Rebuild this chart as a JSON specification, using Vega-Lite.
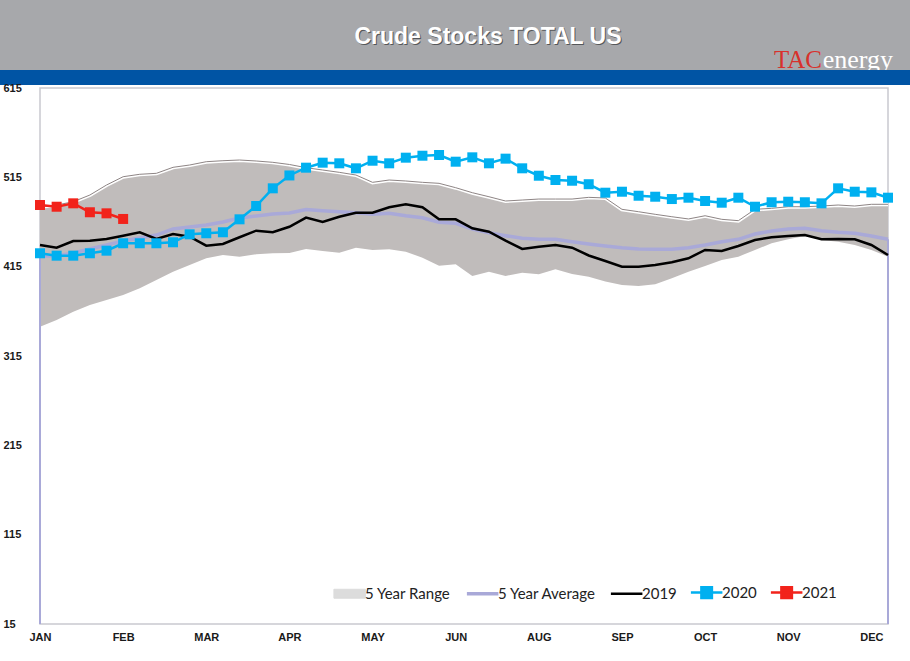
{
  "$schema": "https://vega.github.io/schema/vega-lite/v6.json",
  "padding": 0,
  "background": "white",
  "spacing": 0,
  "bounds": "flush",
  "config": {"view": {"stroke": null}, "font": "Liberation Sans"},
  "datasets": {
    "weeks": [
      {"week": 1, "lo": 347.8, "hi": 482.1, "avg": 426.9, "y2019": 439.3, "y2020": 430.0, "y2021": 484.0},
      {"week": 2, "lo": 355.3, "hi": 484.0, "avg": 426.9, "y2019": 436.2, "y2020": 427.3, "y2021": 482.1},
      {"week": 3, "lo": 364.6, "hi": 487.7, "avg": 430.3, "y2019": 443.7, "y2020": 427.3, "y2021": 485.9},
      {"week": 4, "lo": 372.1, "hi": 495.2, "avg": 434.8, "y2019": 444.1, "y2020": 430.0, "y2021": 475.9},
      {"week": 5, "lo": 377.7, "hi": 506.4, "avg": 439.3, "y2019": 446.0, "y2020": 432.9, "y2021": 474.7},
      {"week": 6, "lo": 383.3, "hi": 515.7, "avg": 443.7, "y2019": 449.7, "y2020": 441.2, "y2021": 468.4},
      {"week": 7, "lo": 390.8, "hi": 518.4, "avg": 447.1, "y2019": 453.5, "y2020": 441.2},
      {"week": 8, "lo": 400.1, "hi": 519.5, "avg": 450.4, "y2019": 446.0, "y2020": 441.2},
      {"week": 9, "lo": 409.4, "hi": 526.2, "avg": 457.2, "y2019": 451.6, "y2020": 442.3},
      {"week": 10, "lo": 416.9, "hi": 528.8, "avg": 459.4, "y2019": 448.5, "y2020": 451.2},
      {"week": 11, "lo": 424.4, "hi": 532.5, "avg": 461.6, "y2019": 438.5, "y2020": 452.4},
      {"week": 12, "lo": 428.1, "hi": 533.6, "avg": 465.0, "y2019": 440.4, "y2020": 453.5},
      {"week": 13, "lo": 426.2, "hi": 534.4, "avg": 469.5, "y2019": 447.9, "y2020": 468.0},
      {"week": 14, "lo": 428.8, "hi": 533.3, "avg": 471.7, "y2019": 455.3, "y2020": 482.9},
      {"week": 15, "lo": 430.0, "hi": 531.8, "avg": 474.0, "y2019": 453.5, "y2020": 502.7},
      {"week": 16, "lo": 430.3, "hi": 529.4, "avg": 475.1, "y2019": 459.7, "y2020": 517.1},
      {"week": 17, "lo": 434.8, "hi": 525.8, "avg": 479.0, "y2019": 470.0, "y2020": 525.8},
      {"week": 18, "lo": 432.5, "hi": 523.2, "avg": 477.6, "y2019": 465.0, "y2020": 531.4},
      {"week": 19, "lo": 430.6, "hi": 520.6, "avg": 476.5, "y2019": 470.9, "y2020": 530.7},
      {"week": 20, "lo": 436.2, "hi": 517.6, "avg": 475.4, "y2019": 475.4, "y2020": 525.1},
      {"week": 21, "lo": 433.7, "hi": 509.4, "avg": 473.6, "y2019": 475.4, "y2020": 533.6},
      {"week": 22, "lo": 434.4, "hi": 512.0, "avg": 474.7, "y2019": 481.5, "y2020": 530.7},
      {"week": 23, "lo": 431.8, "hi": 510.9, "avg": 472.0, "y2019": 484.8, "y2020": 537.0},
      {"week": 24, "lo": 425.0, "hi": 509.4, "avg": 469.8, "y2019": 481.5, "y2020": 539.2},
      {"week": 25, "lo": 416.1, "hi": 508.3, "avg": 464.7, "y2019": 468.0, "y2020": 540.0},
      {"week": 26, "lo": 417.6, "hi": 503.4, "avg": 463.5, "y2019": 468.0, "y2020": 532.5},
      {"week": 27, "lo": 404.6, "hi": 497.8, "avg": 457.2, "y2019": 457.9, "y2020": 537.4},
      {"week": 28, "lo": 409.4, "hi": 493.3, "avg": 453.0, "y2019": 454.1, "y2020": 530.7},
      {"week": 29, "lo": 404.6, "hi": 488.5, "avg": 449.7, "y2019": 444.1, "y2020": 535.9},
      {"week": 30, "lo": 408.2, "hi": 489.6, "avg": 446.8, "y2019": 434.8, "y2020": 525.1},
      {"week": 31, "lo": 406.5, "hi": 490.7, "avg": 445.6, "y2019": 437.4, "y2020": 516.8},
      {"week": 32, "lo": 412.1, "hi": 490.7, "avg": 445.6, "y2019": 439.3, "y2020": 512.0},
      {"week": 33, "lo": 406.8, "hi": 490.7, "avg": 442.9, "y2019": 436.2, "y2020": 511.2},
      {"week": 34, "lo": 403.8, "hi": 492.6, "avg": 440.4, "y2019": 427.5, "y2020": 507.3},
      {"week": 35, "lo": 398.4, "hi": 491.9, "avg": 438.1, "y2019": 421.3, "y2020": 497.8},
      {"week": 36, "lo": 394.5, "hi": 479.2, "avg": 436.2, "y2019": 415.0, "y2020": 498.9},
      {"week": 37, "lo": 393.4, "hi": 476.5, "avg": 434.8, "y2019": 415.0, "y2020": 494.4},
      {"week": 38, "lo": 395.3, "hi": 473.6, "avg": 434.4, "y2019": 416.9, "y2020": 493.3},
      {"week": 39, "lo": 402.0, "hi": 470.9, "avg": 434.4, "y2019": 419.9, "y2020": 490.7},
      {"week": 40, "lo": 409.4, "hi": 468.4, "avg": 436.2, "y2019": 424.4, "y2020": 492.2},
      {"week": 41, "lo": 415.7, "hi": 472.0, "avg": 439.3, "y2019": 433.7, "y2020": 488.5},
      {"week": 42, "lo": 422.5, "hi": 468.0, "avg": 442.9, "y2019": 432.5, "y2020": 486.6},
      {"week": 43, "lo": 426.2, "hi": 466.5, "avg": 445.6, "y2019": 438.1, "y2020": 492.2},
      {"week": 44, "lo": 433.7, "hi": 479.2, "avg": 451.6, "y2019": 444.9, "y2020": 482.1},
      {"week": 45, "lo": 441.2, "hi": 480.3, "avg": 454.9, "y2019": 447.9, "y2020": 487.1},
      {"week": 46, "lo": 445.6, "hi": 482.1, "avg": 457.2, "y2019": 449.3, "y2020": 487.7},
      {"week": 47, "lo": 449.3, "hi": 482.1, "avg": 457.9, "y2019": 450.4, "y2020": 487.1},
      {"week": 48, "lo": 444.9, "hi": 482.9, "avg": 455.3, "y2019": 445.6, "y2020": 485.9},
      {"week": 49, "lo": 442.9, "hi": 484.0, "avg": 453.5, "y2019": 446.0, "y2020": 502.7},
      {"week": 50, "lo": 439.3, "hi": 482.9, "avg": 452.4, "y2019": 445.6, "y2020": 498.9},
      {"week": 51, "lo": 433.7, "hi": 484.8, "avg": 449.3, "y2019": 439.3, "y2020": 498.2},
      {"week": 52, "lo": 426.2, "hi": 484.8, "avg": 445.6, "y2019": 428.1, "y2020": 492.2}
    ],
    "header": [
      {"title": "Crude Stocks TOTAL US", "logo1": "TAC", "logo2": "energy"}
    ],
    "blank": [{"t": ""}]
  },
  "vconcat": [
    {
      "width": 910,
      "height": 70,
      "view": {"fill": "#a7a8ab", "stroke": null},
      "data": {"name": "header"},
      "layer": [
        {
          "mark": {"type": "text", "font": "Liberation Sans", "fontWeight": "bold", "fontSize": 23, "fill": "#55575a", "baseline": "middle", "dx": 34, "dy": 3},
          "encoding": {"text": {"field": "title"}}
        },
        {
          "mark": {"type": "text", "font": "Liberation Sans", "fontWeight": "bold", "fontSize": 23, "fill": "#ffffff", "baseline": "middle", "dx": 33, "dy": 2},
          "encoding": {"text": {"field": "title"}}
        },
        {
          "mark": {"type": "text", "font": "Liberation Serif", "fontSize": 25, "fill": "#d8312c", "align": "right", "baseline": "alphabetic", "dx": -88, "dy": -2},
          "encoding": {"text": {"field": "logo1"}, "x": {"value": "width"}, "y": {"value": "height"}}
        },
        {
          "mark": {"type": "text", "font": "Liberation Serif", "fontSize": 26, "fill": "#ffffff", "align": "right", "baseline": "alphabetic", "dx": -17, "dy": -2},
          "encoding": {"text": {"field": "logo2"}, "x": {"value": "width"}, "y": {"value": "height"}}
        }
      ]
    },
    {
      "width": 910,
      "height": 15,
      "view": {"fill": "#0054a4", "stroke": null},
      "data": {"name": "blank"},
      "mark": {"type": "text"},
      "encoding": {"text": {"field": "t"}}
    },
    {
      "width": 910,
      "height": 3,
      "data": {"name": "blank"},
      "mark": {"type": "text"},
      "encoding": {"text": {"field": "t"}}
    },
    {
      "spacing": 0,
      "bounds": "flush",
      "hconcat": [
        {
          "width": 40,
          "height": 536,
          "data": {"name": "blank"},
          "mark": {"type": "text"},
          "encoding": {"text": {"field": "t"}}
        },
        {
          "width": 848,
          "height": 536,
          "view": {"fill": "white", "stroke": "#c9c9cf", "strokeWidth": 1.5},
          "data": {"name": "weeks"},
          "encoding": {
            "x": {
              "field": "week",
              "type": "quantitative",
              "scale": {"domain": [1, 52], "nice": false, "zero": false},
              "axis": {
                "values": [1, 6, 11, 16, 21, 26, 31, 36, 41, 46, 51],
                "labelExpr": "['JAN','FEB','MAR','APR','MAY','JUN','AUG','SEP','OCT','NOV','DEC'][round((datum.value-1)/5)]",
                "title": null, "domain": false, "ticks": false, "tickSize": 0, "grid": false,
                "labelFont": "Liberation Sans", "labelFontWeight": "bold", "labelFontSize": 11,
                "labelColor": "#1a1a1a", "labelPadding": 7, "labelFlush": false, "labelOverlap": false
              }
            }
          },
          "layer": [
            {
              "mark": {"type": "area", "opacity": 1, "fill": "#c0bcbb"},
              "encoding": {
                "y": {
                  "field": "lo", "type": "quantitative",
                  "scale": {"domain": [15, 615], "nice": false, "zero": false},
                  "axis": {
                    "values": [15, 115, 215, 315, 415, 515, 615],
                    "title": null, "domain": false, "ticks": false, "tickSize": 0, "grid": false,
                    "labelAlign": "left", "labelPadding": 37,
                    "labelFont": "Liberation Sans", "labelFontWeight": "bold", "labelFontSize": 11,
                    "labelColor": "#1a1a1a", "labelFlush": false, "labelOverlap": false
                  }
                },
                "y2": {"field": "hi"}
              }
            },
            {
              "transform": [{"filter": "datum.week < 0"}],
              "mark": {"type": "area", "opacity": 1},
              "encoding": {
                "y": {"field": "lo", "type": "quantitative"},
                "y2": {"field": "hi"},
                "color": {
                  "datum": "5 Year Range",
                  "scale": {
                    "domain": ["5 Year Range", "5 Year Average", "2019", "2020", "2021"],
                    "range": ["#dcdcdc", "#a9a9d8", "#000000", "#00b0f0", "#f2231b"]
                  },
                  "legend": {
                    "orient": "none", "legendX": 346, "legendY": 585, "direction": "horizontal",
                    "title": null, "labelFont": "Lato", "labelFontSize": 15, "labelColor": "#222222",
                    "labelOffset": 4, "symbolSize": 784, "columnPadding": 8,
                    "symbolType": "M-1,0H1",
                    "encoding": {
                      "symbols": {
                        "shape": {"value": {"signal": "datum.value === '2020' || datum.value === '2021' ? 'M-1.4,0H0.85M-0.65,-0.38H0.1V0.38H-0.65Z' : datum.value === '5 Year Range' ? 'M-1.4,-0.32H0.85V0.32H-1.4Z' : 'M-1.4,0H0.85'"}},
                        "fill": {"value": {"signal": "datum.value === '5 Year Range' ? '#dcdcdc' : scale('color', datum.value)"}},
                        "stroke": {"value": {"signal": "datum.value === '5 Year Range' ? '#8c8c8c' : scale('color', datum.value)"}},
                        "strokeWidth": {"value": {"signal": "datum.value === '5 Year Range' ? 1 : datum.value === '5 Year Average' ? 3.5 : 2.5"}},
                        "opacity": {"value": 1},
                        "fillOpacity": {"value": 1},
                        "strokeOpacity": {"value": 1}
                      }
                    }
                  }
                }
              }
            },
            {
              "mark": {"type": "line", "color": "#ffffff", "strokeWidth": 4},
              "encoding": {"y": {"field": "hi", "type": "quantitative"}}
            },
            {
              "mark": {"type": "line", "color": "#8e8585", "strokeWidth": 1},
              "encoding": {"y": {"field": "hi", "type": "quantitative"}}
            },
            {
              "transform": [{"filter": "datum.week == 1 || datum.week == 52"}],
              "mark": {"type": "rule", "color": "#a9a9d8", "strokeWidth": 2},
              "encoding": {"y": {"field": "avg", "type": "quantitative"}, "y2": {"datum": 15}}
            },
            {
              "mark": {"type": "line", "strokeWidth": 3.5},
              "encoding": {"y": {"field": "avg", "type": "quantitative"}, "color": {"datum": "5 Year Average", "legend": null}}
            },
            {
              "mark": {"type": "line", "strokeWidth": 2.5},
              "encoding": {"y": {"field": "y2019", "type": "quantitative"}, "color": {"datum": "2019", "legend": null}}
            },
            {
              "mark": {"type": "line", "strokeWidth": 2.5, "point": {"shape": "square", "size": 100, "filled": true, "opacity": 1}},
              "encoding": {"y": {"field": "y2020", "type": "quantitative"}, "color": {"datum": "2020", "legend": null}}
            },
            {
              "mark": {"type": "line", "strokeWidth": 2.5, "point": {"shape": "square", "size": 100, "filled": true, "opacity": 1}},
              "encoding": {"y": {"field": "y2021", "type": "quantitative"}, "color": {"datum": "2021", "legend": null}}
            }
          ]
        }
      ]
    }
  ]
}
